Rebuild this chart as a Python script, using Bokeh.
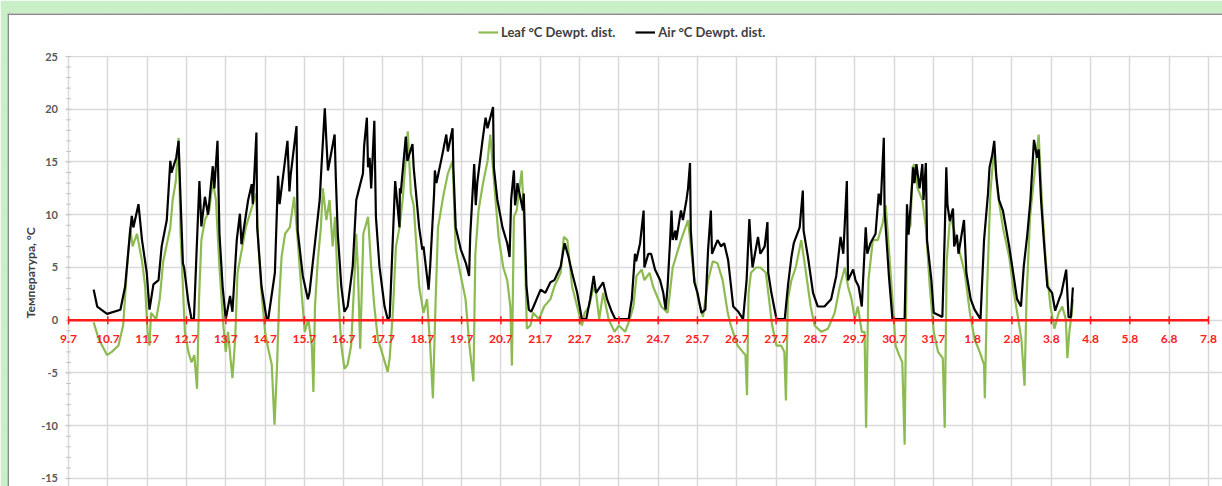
import math
from bokeh.plotting import figure
from bokeh.models import (Range1d, FixedTicker, Legend, LegendItem, LabelSet, Label,
                          ColumnDataSource, BoxAnnotation, Span)
from bokeh.core.properties import value
from bokeh.embed import file_html
from bokeh.resources import INLINE

# ---- data (x = days since 9 July) ----
day_labels = ["9.7", "10.7", "11.7", "12.7", "13.7", "14.7", "15.7", "16.7", "17.7", "18.7",
              "19.7", "20.7", "21.7", "22.7", "23.7", "24.7", "25.7", "26.7", "27.7", "28.7",
              "29.7", "30.7", "31.7", "1.8", "2.8", "3.8", "4.8", "5.8", "6.8", "7.8"]
y_ticks = [-15, -10, -5, 0, 5, 10, 15, 20, 25]
y_tick_labels = ["-15", "-10", "-5", "0", "5", "10", "15", "20", "25"]
y_minor = list(range(-15, 26))

air_day = [0.64, 0.73, 0.98, 1.32, 1.44, 1.57, 1.61, 1.65, 1.78, 1.87, 1.99, 2.06, 2.16, 2.29, 2.37,
           2.50, 2.59, 2.62, 2.74, 2.80, 2.84, 2.91, 2.94, 3.05, 3.13, 3.19, 3.26, 3.33, 3.38, 3.47,
           3.55, 3.67, 3.71, 3.79, 3.84, 3.92, 4.00, 4.11, 4.17, 4.28, 4.36, 4.40, 4.57, 4.66, 4.69,
           4.78, 4.80, 4.91, 5.04, 5.08, 5.25, 5.33, 5.37, 5.57, 5.62, 5.65, 5.80, 5.83, 5.96, 6.09,
           6.13, 6.26, 6.39, 6.43, 6.52, 6.56, 6.60, 6.77, 6.80, 6.85, 6.94, 7.02, 7.10, 7.23, 7.32,
           7.36, 7.49, 7.52, 7.59, 7.62, 7.66, 7.70, 7.78, 7.82, 7.91, 8.04, 8.12, 8.17, 8.29, 8.31,
           8.42, 8.43, 8.45, 8.58, 8.62, 8.75, 8.78, 8.92, 9.00, 9.03, 9.16, 9.20, 9.30, 9.32, 9.36,
           9.51, 9.61, 9.65, 9.77, 9.79, 9.85, 9.98, 10.11, 10.19, 10.22, 10.32, 10.36, 10.40, 10.53,
           10.61, 10.66, 10.80, 10.82, 10.91, 11.04, 11.16, 11.22, 11.26, 11.33, 11.36, 11.40, 11.42,
           11.56, 11.58, 11.65, 11.71, 11.77, 11.83, 12.01, 12.13, 12.26, 12.36, 12.52, 12.62, 12.72,
           12.81, 12.94, 13.06, 13.17, 13.27, 13.36, 13.42, 13.53, 13.60, 13.70, 13.82, 13.91, 14.25,
           14.33, 14.41, 14.44, 14.54, 14.63, 14.65, 14.75, 14.82, 14.92, 15.05, 15.13, 15.19, 15.24,
           15.30, 15.34, 15.37, 15.44, 15.46, 15.58, 15.63, 15.72, 15.76, 15.81, 15.83, 15.92, 16.00,
           16.10, 16.20, 16.27, 16.34, 16.37, 16.51, 16.60, 16.68, 16.78, 16.91, 17.04, 17.16, 17.25,
           17.32, 17.36, 17.40, 17.54, 17.60, 17.71, 17.78, 17.80, 17.88, 18.01, 18.22, 18.30, 18.39,
           18.45, 18.60, 18.68, 18.70, 18.81, 18.94, 19.06, 19.23, 19.40, 19.53, 19.64, 19.71, 19.80,
           19.83, 19.96, 20.02, 20.10, 20.18, 20.28, 20.32, 20.40, 20.53, 20.61, 20.66, 20.74, 20.76,
           20.87, 20.96, 21.27, 21.33, 21.37, 21.49, 21.52, 21.57, 21.65, 21.72, 21.75, 21.81, 21.84,
           21.95, 22.01, 22.23, 22.29, 22.33, 22.36, 22.42, 22.50, 22.53, 22.60, 22.64, 22.78, 22.84,
           22.95, 23.05, 23.20, 23.29, 23.39, 23.43, 23.50, 23.55, 23.60, 23.67, 23.77, 23.93, 24.03,
           24.13, 24.23, 24.30, 24.39, 24.47, 24.56, 24.64, 24.68, 24.74, 24.81, 24.90, 25.02, 25.10,
           25.20, 25.26, 25.38, 25.44, 25.50, 25.55]
air_val = [2.9, 1.3, 0.6, 1.0, 3.2, 8.5, 9.9, 8.8, 11.0, 7.6, 4.5, 1.0, 3.4, 3.8, 7.0,
           9.5, 15.1, 14.0, 15.4, 17.0, 12.6, 5.4, 5.0, 1.7, 0.1, 0.1, 6.7, 13.2, 8.9, 11.7,
           10.0, 14.6, 12.5, 17.0, 8.2, 3.2, 0.1, 2.3, 0.8, 7.6, 10.1, 7.2, 11.4, 12.9, 11.0,
           17.8, 8.8, 3.2, 0.1, 0.1, 4.5, 13.7, 11.0, 17.0, 12.2, 13.7, 18.4, 8.5, 4.2, 2.0,
           2.6, 7.0, 11.4, 14.2, 20.1, 17.0, 14.2, 17.6, 13.5, 8.2, 3.2, 0.8, 1.3, 5.1, 11.4,
           12.0, 13.9, 16.5, 19.2, 14.5, 15.4, 12.5, 18.9, 9.8, 5.1, 1.3, 0.1, 0.3, 11.4, 13.2,
           8.8, 12.5, 12.0, 17.4, 15.1, 16.7, 14.5, 8.8, 6.7, 7.0, 2.9, 5.1, 12.0, 14.2, 13.0,
           15.7, 17.6, 16.0, 18.2, 14.5, 8.8, 6.7, 5.4, 4.2, 8.1, 14.8, 10.9, 13.1, 17.0,
           19.2, 18.2, 20.2, 14.5, 11.4, 8.8, 7.3, 6.0, 11.4, 14.2, 10.9, 12.0, 13.0,
           10.4, 12.0, 3.2, 1.0, 0.8, 1.3, 2.9, 2.6, 3.6, 3.8, 5.1, 7.3, 6.0,
           4.5, 2.6, 0.1, 0.1, 2.0, 4.2, 2.6, 3.2, 3.6, 2.0, 0.8, 0.1, 0.1,
           2.0, 6.3, 5.6, 7.3, 10.4, 5.0, 6.3, 6.3, 4.8, 3.8, 2.6, 1.0, 3.2,
           7.3, 10.4, 7.6, 8.5, 7.6, 10.4, 9.5, 11.4, 12.5, 14.9, 8.5, 3.6, 2.6,
           0.7, 1.0, 6.7, 10.4, 6.3, 7.6, 7.0, 7.3, 5.7, 1.3, 0.8, 0.1, 3.8,
           9.6, 7.0, 5.0, 7.9, 6.3, 7.0, 9.3, 4.5, 2.6, 0.1, 0.1, 3.2, 6.0,
           7.3, 8.8, 12.3, 8.5, 6.0, 2.6, 1.3, 1.3, 2.0, 4.2, 7.9, 6.3, 13.2,
           3.8, 4.8, 3.8, 3.2, 1.3, 8.8, 6.3, 7.3, 8.2, 12.0, 10.9, 17.3, 10.4,
           4.2, 0.1, 0.1, 11.0, 8.1, 14.5, 13.0, 14.8, 12.5, 14.8, 11.4, 14.9, 7.6,
           3.8, 0.7, 0.3, 8.2, 14.5, 10.9, 9.4, 10.6, 7.0, 8.1, 6.3, 9.5, 4.5,
           2.0, 1.0, 0.1, 7.6, 12.0, 14.5, 15.7, 17.0, 13.7, 11.4, 10.4, 7.0, 4.5,
           2.0, 1.3, 5.1, 8.1, 11.4, 17.1, 15.4, 16.2, 11.4, 7.6, 3.2, 2.6, 0.9,
           2.0, 2.6, 4.8, 0.3, 0.3, 3.1]

leaf_day = [0.64, 0.77, 0.98, 1.10, 1.27, 1.39, 1.48, 1.57, 1.63, 1.74, 1.87, 1.95, 2.01, 2.06, 2.10,
            2.23, 2.32, 2.41, 2.59, 2.65, 2.73, 2.80, 2.85, 2.91, 2.96, 3.05, 3.13, 3.20, 3.27, 3.32,
            3.38, 3.47, 3.58, 3.67, 3.75, 3.84, 3.94, 4.00, 4.06, 4.12, 4.17, 4.24, 4.30, 4.41, 4.51,
            4.64, 4.77, 4.83, 4.91, 5.00, 5.08, 5.17, 5.24, 5.30, 5.36, 5.42, 5.51, 5.63, 5.74, 5.83,
            5.93, 6.01, 6.10, 6.19, 6.23, 6.27, 6.34, 6.42, 6.47, 6.56, 6.64, 6.72, 6.78, 6.85, 6.94,
            7.02, 7.10, 7.19, 7.28, 7.32, 7.36, 7.42, 7.50, 7.62, 7.70, 7.78, 7.87, 7.97, 8.12, 8.17,
            8.25, 8.33, 8.42, 8.50, 8.63, 8.71, 8.78, 8.92, 9.03, 9.12, 9.20, 9.27, 9.34, 9.40, 9.53,
            9.65, 9.77, 9.85, 9.98, 10.10, 10.20, 10.30, 10.35, 10.43, 10.54, 10.66, 10.73, 10.85,
            10.94, 11.06, 11.16, 11.24, 11.28, 11.33, 11.40, 11.53, 11.58, 11.66, 11.75, 11.82, 11.97,
            12.10, 12.26, 12.36, 12.52, 12.60, 12.69, 12.81, 12.94, 13.06, 13.13, 13.24, 13.36, 13.42,
            13.50, 13.60, 13.74, 13.89, 14.00, 14.16, 14.28, 14.37, 14.45, 14.58, 14.65, 14.78, 14.87,
            15.08, 15.24, 15.37, 15.58, 15.76, 15.90, 16.02, 16.14, 16.27, 16.39, 16.51, 16.64, 16.77,
            16.85, 17.02, 17.15, 17.22, 17.26, 17.30, 17.36, 17.49, 17.60, 17.74, 17.82, 17.90, 18.01,
            18.13, 18.21, 18.25, 18.30, 18.39, 18.50, 18.64, 18.76, 18.88, 18.98, 19.15, 19.32, 19.49,
            19.62, 19.75, 19.83, 19.92, 20.00, 20.08, 20.18, 20.25, 20.29, 20.35, 20.46, 20.59, 20.71,
            20.79, 20.87, 20.96, 21.04, 21.13, 21.21, 21.27, 21.33, 21.42, 21.47, 21.52, 21.60, 21.72,
            21.81, 21.91, 22.01, 22.12, 22.24, 22.29, 22.34, 22.43, 22.55, 22.68, 22.80, 22.93, 23.05,
            23.18, 23.29, 23.31, 23.37, 23.45, 23.54, 23.64, 23.77, 23.93, 24.05, 24.16, 24.24, 24.32,
            24.37, 24.46, 24.59, 24.68, 24.76, 24.86, 24.98, 25.08, 25.19, 25.28, 25.37, 25.41, 25.46,
            25.52, 25.55]
leaf_val = [-0.2, -1.8, -3.3, -3.0, -2.4, -0.5, 4.5, 8.8, 7.0, 8.2, 5.6, 3.2, -1.1, -2.4, 0.7,
            0.1, 2.0, 5.6, 8.8, 11.4, 13.2, 17.3, 8.2, 3.2, -1.1, -3.0, -4.0, -3.3, -6.5, 2.0,
            7.6, 9.5, 10.4, 13.2, 11.4, 5.0, -0.5, -3.0, -1.1, -3.6, -5.5, -1.8, 4.5, 6.7, 8.8,
            10.4, 12.0, 7.3, 2.6, -1.1, -2.7, -4.2, -9.9, -4.8, 2.0, 6.0, 8.2, 8.8, 11.7, 7.6,
            2.6, -1.1, 0.1, -2.4, -6.8, 1.3, 5.6, 8.8, 12.5, 9.5, 11.4, 7.0, 9.8, 3.2, -2.4,
            -4.6, -4.2, -2.4, 4.5, 8.2, 5.0, -2.7, 8.2, 9.8, 5.0, 1.3, -1.8, -3.0, -4.9, -3.6,
            0.7, 7.0, 8.8, 11.4, 17.9, 12.0, 10.9, 3.2, 0.7, 2.0, -2.4, -7.4, 2.0, 8.8, 11.7,
            13.9, 15.1, 6.7, 4.2, 2.0, -2.4, -5.8, 6.3, 10.4, 12.9, 15.1, 17.6, 12.0,
            7.9, 5.0, 3.8, 1.3, -4.3, 9.8, 10.4, 14.2, 10.4, -0.8, -0.5, 0.7, 0.1,
            1.3, 2.0, 3.2, 4.5, 7.9, 7.6, 3.2, 1.3, -0.5, 0.7, 1.3, 3.2, 2.6,
            0.1, 2.6, 0.1, -1.1, -0.5, -1.1, 0.1, 1.3, 4.2, 4.8, 3.8, 4.5, 3.2,
            1.3, 0.7, 5.0, 7.6, 9.5, 4.5, 2.0, 0.3, 3.8, 5.6, 5.4, 3.8, 0.7,
            -0.5, -2.4, -3.0, -3.3, -7.1, 2.6, 4.5, 5.0, 5.0, 4.5, 2.0, -0.5, -2.4,
            -2.4, -3.0, -7.6, 2.0, 3.8, 5.0, 7.6, 4.5, 1.3, -0.5, -1.1, -0.8, 0.7,
            3.2, 5.0, 3.2, 2.0, 0.1, 1.3, -1.1, -1.1, -10.2, 3.8, 7.6, 7.6, 9.2,
            10.9, 6.7, 2.0, -2.4, -3.3, -4.0, -11.8, 8.2, 9.0, 14.5, 14.8, 12.5, 11.4,
            8.8, 3.2, -1.1, -3.0, -3.6, -10.2, 5.6, 10.0, 8.2, 6.3, 4.5, 0.7, -1.8,
            -3.0, -4.2, -7.4, 3.2, 12.0, 16.2, 12.0, 8.8, 6.0, 2.6, 0.1, -1.8, -6.2,
            2.0, 9.8, 14.5, 17.6, 11.4, 5.6, 1.3, -0.8, 0.7, 1.3, 0.1, -3.6, -1.1,
            0.7, 2.0]

# ---- figure ----
FONT = "Lato"
day_pos = list(range(len(day_labels)))

x_rng = Range1d(-1.552, 29.356)
y_rng = Range1d(-15.76, 29.076)
p = figure(width=1222, height=486, x_range=x_rng, y_range=y_rng,
           x_axis_location=None, y_axis_location=None,
           output_backend="svg", toolbar_location=None,
           min_border_left=7, min_border_right=0, min_border_top=13, min_border_bottom=0)
p.border_fill_color = "#c8efc6"
p.background_fill_color = "white"
p.outline_line_color = None

p.xgrid.ticker = FixedTicker(ticks=day_pos)
p.ygrid.ticker = FixedTicker(ticks=y_ticks)
p.xgrid.grid_line_color = "#d9d9d9"
p.xgrid.grid_line_width = 1.5
p.ygrid.grid_line_color = "#d9d9d9"
p.ygrid.grid_line_width = 1.5

# mask grid above the top tick and left of the 9.7 line (keeps short outer tick stubs)
p.add_layout(BoxAnnotation(right=day_pos[0] - 0.08, fill_color="white", fill_alpha=1.0,
                           line_color=None, level="underlay"))
p.add_layout(BoxAnnotation(bottom=y_ticks[-1] + 0.07, fill_color="white", fill_alpha=1.0,
                           line_color=None, level="underlay"))

# grey panel edge (left and top)
p.add_layout(Span(location=x_rng.start, dimension="height", line_color="#8a8a8a", line_width=3))
p.add_layout(Span(location=y_rng.end, dimension="width", line_color="#8a8a8a", line_width=3))

# y tick labels and minor ticks
ytick_src = ColumnDataSource(dict(x=[day_pos[0]] * len(y_ticks), y=y_ticks, t=y_tick_labels))
p.add_layout(LabelSet(x="x", y="y", text="t", source=ytick_src, x_offset=-10.5,
                      text_align="right", text_baseline="middle",
                      text_font=value(FONT), text_font_style="bold", text_font_size="11px",
                      text_color="#595959"))
minor_src = ColumnDataSource(dict(x=[day_pos[0]] * len(y_minor), y=y_minor))
p.scatter("x", "y", source=minor_src, marker="dash", size=5,
          line_color="#c4c4c4", line_width=1)

# y axis title
p.add_layout(Label(x=-0.967, y=4.5, text="Температура, °C", angle=math.pi / 2,
                   text_align="center", text_baseline="middle",
                   text_font=FONT, text_font_style="bold", text_font_size="12px",
                   text_color="#404040"))

leaf_src = ColumnDataSource(dict(x=leaf_day, y=leaf_val))
air_src = ColumnDataSource(dict(x=air_day, y=air_val))
r_leaf = p.line("x", "y", source=leaf_src, line_color="#8dbb52", line_width=2.2)
r_air = p.line("x", "y", source=air_src, line_color="#000000", line_width=2.2)

# red zero axis with ticks and labels
p.line(x=[day_pos[0], day_pos[-1]], y=[0, 0], line_color="#ff1a1a", line_width=2.5)
tick_src = ColumnDataSource(dict(x=day_pos, y=[0] * len(day_pos), t=day_labels))
p.scatter("x", "y", source=tick_src, marker="dash", angle=math.pi / 2, size=8,
          line_color="#ff1a1a", line_width=1.5)
p.add_layout(LabelSet(x="x", y="y", text="t", source=tick_src, y_offset=-19,
                      text_align="center", text_baseline="middle",
                      text_font=value(FONT), text_font_style="bold", text_font_size="12px",
                      text_color="#ff2020"))

legend = Legend(items=[LegendItem(label="Leaf °C Dewpt. dist.", renderers=[r_leaf]),
                       LegendItem(label="Air °C Dewpt. dist.", renderers=[r_air])],
                location=(471, 444), orientation="horizontal",
                padding=0, margin=0, spacing=20, glyph_width=20, label_standoff=3,
                border_line_color=None, background_fill_alpha=0,
                label_text_font=FONT, label_text_font_style="bold",
                label_text_font_size="13px", label_text_color="#404040")
p.add_layout(legend)

open("out.html", "w").write(file_html(p, INLINE))
